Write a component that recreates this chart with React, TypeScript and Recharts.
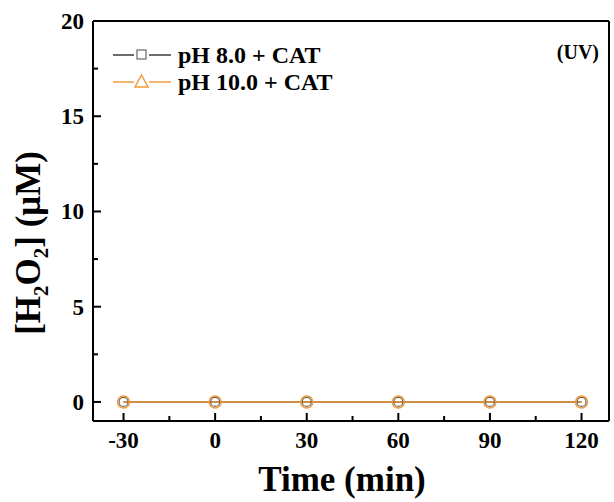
import React from "react";
import { LineChart, Line, XAxis, YAxis, ReferenceLine } from "recharts";

// H2O2 under UV with catalase, time in min
const times = [-30, 0, 30, 60, 90, 120];
const ph8Cat = [0, 0, 0, 0, 0, 0];
const ph10Cat = [0, 0, 0, 0, 0, 0];

const xMajorTicks = [-30, 0, 30, 60, 90, 120];
const xMinorTicks = [-15, 15, 45, 75, 105];
const yMajorTicks = [0, 5, 10, 15, 20];
const yMinorTicks = [2.5, 7.5, 12.5, 17.5];

const data = times.map((t, i) => ({ time: t, ph8: ph8Cat[i], ph10: ph10Cat[i] }));

const FONT = "'Liberation Serif', 'Times New Roman', serif";
const BLACK = "#3a3a3a";
const ORANGE = "#f39a3a";

function XTick(props: any) {
  const { payload } = props;
  const x = Number(props.x);
  const y = Number(props.y);
  const major = xMajorTicks.includes(payload.value);
  return (
    <g>
      <line x1={x} x2={x} y1={y} y2={y - (major ? 8 : 5)} stroke="#000" strokeWidth={2} />
      {major && (
        <text x={x} y={y + 27} textAnchor="middle" fontFamily={FONT} fontWeight="bold" fontSize={23} fill="#000">
          {payload.value}
        </text>
      )}
    </g>
  );
}

function YTick(props: any) {
  const { payload } = props;
  const x = Number(props.x);
  const y = Number(props.y);
  const major = yMajorTicks.includes(payload.value);
  return (
    <g>
      <line x1={x} x2={x + (major ? 8 : 5)} y1={y} y2={y} stroke="#000" strokeWidth={2} />
      {major && (
        <text x={x - 9} y={y + 8} textAnchor="end" fontFamily={FONT} fontWeight="bold" fontSize={23} fill="#000">
          {payload.value}
        </text>
      )}
    </g>
  );
}

// legend, panel tag and axis titles, laid over the chart
function Annotations() {
  const lx = 113;
  return (
    <svg width={614} height={502} style={{ position: "absolute", left: 0, top: 0, pointerEvents: "none" }}>
      <g fontFamily={FONT} fontWeight="bold" fill="#000">
        <line x1={lx} x2={lx + 21} y1={55} y2={55} stroke={BLACK} strokeWidth={1.5} />
        <line x1={lx + 36} x2={lx + 58} y1={55} y2={55} stroke={BLACK} strokeWidth={1.5} />
        <rect x={lx + 24} y={50} width={9} height={9} fill="none" stroke="#666" strokeWidth={1.2} />
        <text x={178} y={63} fontSize={24}>pH 8.0 + CAT</text>

        <line x1={lx} x2={lx + 21} y1={82} y2={82} stroke={ORANGE} strokeWidth={1.5} />
        <line x1={lx + 36} x2={lx + 58} y1={82} y2={82} stroke={ORANGE} strokeWidth={1.5} />
        <path d={`M${lx + 28.5},${75} L${lx + 35},${87} L${lx + 22},${87} Z`} fill="none" stroke={ORANGE} strokeWidth={1.5} />
        <text x={178} y={90} fontSize={24}>pH 10.0 + CAT</text>

        <text x={599} y={59} fontSize={20} textAnchor="end">(UV)</text>

        <text x={342} y={491} fontSize={35} textAnchor="middle">Time (min)</text>

        <text x={0} y={0} fontSize={35} textAnchor="middle" transform="translate(40,243) rotate(-90)">
          [H<tspan fontSize={21} dy={8}>2</tspan>
          <tspan dy={-8}>O</tspan>
          <tspan fontSize={21} dy={8}>2</tspan>
          <tspan dy={-8}>] (μM)</tspan>
        </text>
      </g>
    </svg>
  );
}

export default function App() {
  return (
    <div style={{ position: "absolute", left: 0, top: 0, width: 614, height: 502, background: "#fff" }}>
      <LineChart width={614} height={502} data={data} margin={{ top: 21, right: 5, bottom: 0, left: 0 }}>
        <XAxis
          dataKey="time"
          type="number"
          domain={[-40, 129]}
          ticks={[...xMajorTicks, ...xMinorTicks].sort((a, b) => a - b)}
          interval={0}
          height={81}
          tickSize={0}
          tickMargin={0}
          tickLine={false}
          tick={<XTick />}
          axisLine={{ stroke: "#000", strokeWidth: 2 }}
          allowDataOverflow
        />
        <YAxis
          type="number"
          domain={[-1, 20]}
          ticks={[...yMajorTicks, ...yMinorTicks].sort((a, b) => a - b)}
          interval={0}
          width={93}
          tickSize={0}
          tickMargin={0}
          tickLine={false}
          tick={<YTick />}
          axisLine={{ stroke: "#000", strokeWidth: 2 }}
          allowDataOverflow
        />
        <ReferenceLine y={20} stroke="#000" strokeWidth={2} />
        <ReferenceLine x={129} stroke="#000" strokeWidth={2} />
        <Line dataKey="ph8" stroke={BLACK} strokeWidth={1.5} dot={{ r: 4.5, fill: "none", stroke: "#666", strokeWidth: 1.2 }} isAnimationActive={false} />
        <Line dataKey="ph10" stroke={ORANGE} strokeWidth={1.5} dot={{ r: 6, fill: "none", stroke: ORANGE, strokeWidth: 1.5 }} isAnimationActive={false} />
      </LineChart>
      <Annotations />
    </div>
  );
}
